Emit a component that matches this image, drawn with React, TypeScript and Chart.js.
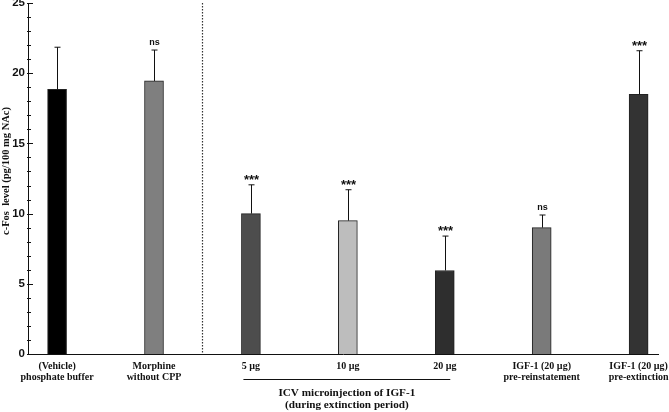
import React, { useEffect, useRef } from "react";
import { Chart, registerables } from "chart.js";

Chart.register(...registerables);

const categories: string[][] = [
  ["(Vehicle)", "phosphate buffer"],
  ["Morphine", "without CPP"],
  ["5 µg"],
  ["10 µg"],
  ["20 µg"],
  ["IGF-1 (20 µg)", "pre-reinstatement"],
  ["IGF-1 (20 µg)", "pre-extinction"],
];
const means = [18.85, 19.45, 10.0, 9.5, 5.95, 9.0, 18.5];
const errors = [3.0, 2.2, 2.05, 2.2, 2.45, 0.9, 3.1];
const significance = ["", "ns", "***", "***", "***", "ns", "***"];
const barColors = ["#000000", "#7f7f7f", "#4d4d4d", "#bdbdbd", "#2e2e2e", "#7a7a7a", "#333333"];
const yTicks = [0, 5, 10, 15, 20, 25];
const yTitle = "c-Fos  level (pg/100 mg NAc)";
const groupTitle = ["ICV microinjection of IGF-1", "(during extinction period)"];
const groupRange = [2, 4];
const dividerAt = 1.5;

const SERIF = "'Liberation Serif', 'DejaVu Serif', serif";
const SANS = "'Liberation Sans', Arial, sans-serif";

const overlay = {
  id: "overlay",
  afterDatasetsDraw(chart: any) {
    const { ctx, chartArea, scales } = chart;
    const x = scales.x;
    const y = scales.y;
    ctx.save();
    // error bars
    ctx.strokeStyle = "#111";
    ctx.lineWidth = 1;
    means.forEach((m, i) => {
      const px = Math.round(x.getPixelForValue(i)) + 0.5;
      const top = y.getPixelForValue(m + errors[i]);
      const base = y.getPixelForValue(m);
      ctx.beginPath();
      ctx.moveTo(px, base);
      ctx.lineTo(px, top);
      ctx.moveTo(px - 3, top);
      ctx.lineTo(px + 3, top);
      ctx.stroke();
      const s = significance[i];
      if (s) {
        ctx.fillStyle = "#111";
        ctx.textAlign = "center";
        ctx.textBaseline = "alphabetic";
        if (s === "ns") {
          ctx.font = `bold 9px ${SANS}`;
          ctx.fillText(s, px, top - 5);
        } else {
          ctx.font = `bold 13px ${SANS}`;
          ctx.fillText(s, px, top - 1);
        }
      }
    });
    // dotted divider
    const dx = Math.round(x.getPixelForValue(dividerAt)) + 0.5;
    ctx.strokeStyle = "#333";
    ctx.lineWidth = 1.2;
    ctx.setLineDash([1.5, 1.5]);
    ctx.beginPath();
    ctx.moveTo(dx, chartArea.top);
    ctx.lineTo(dx, chartArea.bottom);
    ctx.stroke();
    ctx.setLineDash([]);
    // y ticks (major and minor), pointing inward
    ctx.strokeStyle = "#111";
    ctx.lineWidth = 1;
    const ax = chartArea.left;
    for (let v = 0; v <= 25; v++) {
      const py = Math.round(y.getPixelForValue(v)) + 0.5;
      const len = v % 5 === 0 ? 5 : 3;
      ctx.beginPath();
      ctx.moveTo(ax - 1, py);
      ctx.lineTo(ax + len, py);
      ctx.stroke();
    }
    // group bracket
    const gx1 = x.getPixelForValue(groupRange[0]) - 7.5;
    const gx2 = x.getPixelForValue(groupRange[1]) + 5.5;
    ctx.beginPath();
    ctx.moveTo(gx1, 379.5);
    ctx.lineTo(gx2, 379.5);
    ctx.stroke();
    ctx.fillStyle = "#111";
    ctx.font = `bold 11.2px ${SERIF}`;
    ctx.textAlign = "center";
    ctx.textBaseline = "middle";
    const gc = (gx1 + gx2) / 2;
    ctx.fillText(groupTitle[0], gc, 393);
    ctx.fillText(groupTitle[1], gc, 405);
    // y title
    ctx.save();
    ctx.translate(6, 171);
    ctx.rotate(-Math.PI / 2);
    ctx.font = `bold 10.5px ${SERIF}`;
    ctx.fillText(yTitle, 0, 0);
    ctx.restore();
    ctx.restore();
  },
};

export default function App() {
  const ref = useRef<HTMLCanvasElement>(null);
  useEffect(() => {
    if (!ref.current) return;
    const chart = new Chart(ref.current, {
      type: "bar",
      data: {
        datasets: [
          {
            data: means.map((v, i) => ({ x: i, y: v })) as any,
            backgroundColor: barColors,
            borderColor: "#222",
            borderWidth: 1,
            barThickness: 19,
          },
        ],
      },
      options: {
        responsive: false,
        animation: false,
        devicePixelRatio: 1,
        layout: { padding: { top: 3, right: 11, left: 0, bottom: 0 } },
        plugins: { legend: { display: false }, tooltip: { enabled: false } },
        scales: {
          x: {
            type: "linear",
            min: -0.3,
            max: 6.2,
            offset: false,
            grid: { display: false, drawTicks: false },
            border: { display: true, color: "#111", width: 1 },
            afterBuildTicks: (scale: any) => {
              scale.ticks = categories.map((_, i) => ({ value: i }));
            },
            afterFit: (scale: any) => {
              scale.height = 58;
              scale.paddingLeft = 0;
              scale.paddingRight = 0;
            },
            ticks: {
              autoSkip: false,
              maxRotation: 0,
              padding: 7,
              color: "#111",
              font: { family: SERIF, size: 10, weight: "bold", lineHeight: 1.1 },
              callback: (v: any) => categories[Math.round(Number(v))] ?? "",
            },
          },
          y: {
            min: 0,
            max: 25,
            grid: { display: false, drawTicks: false },
            border: { display: true, color: "#111", width: 1 },
            afterBuildTicks: (scale: any) => {
              scale.ticks = yTicks.map((v) => ({ value: v }));
            },
            afterFit: (scale: any) => {
              scale.width = 28;
              scale.paddingTop = 0;
              scale.paddingBottom = 0;
            },
            ticks: {
              padding: 3,
              color: "#111",
              font: { family: SANS, size: 11.5, weight: "bold" },
            },
          },
        },
      },
      plugins: [overlay],
    });
    return () => chart.destroy();
  }, []);
  return (
    <div style={{ position: "absolute", left: 0, top: 0, width: 669, height: 412, background: "#fff" }}>
      <canvas ref={ref} width={669} height={412} />
    </div>
  );
}
